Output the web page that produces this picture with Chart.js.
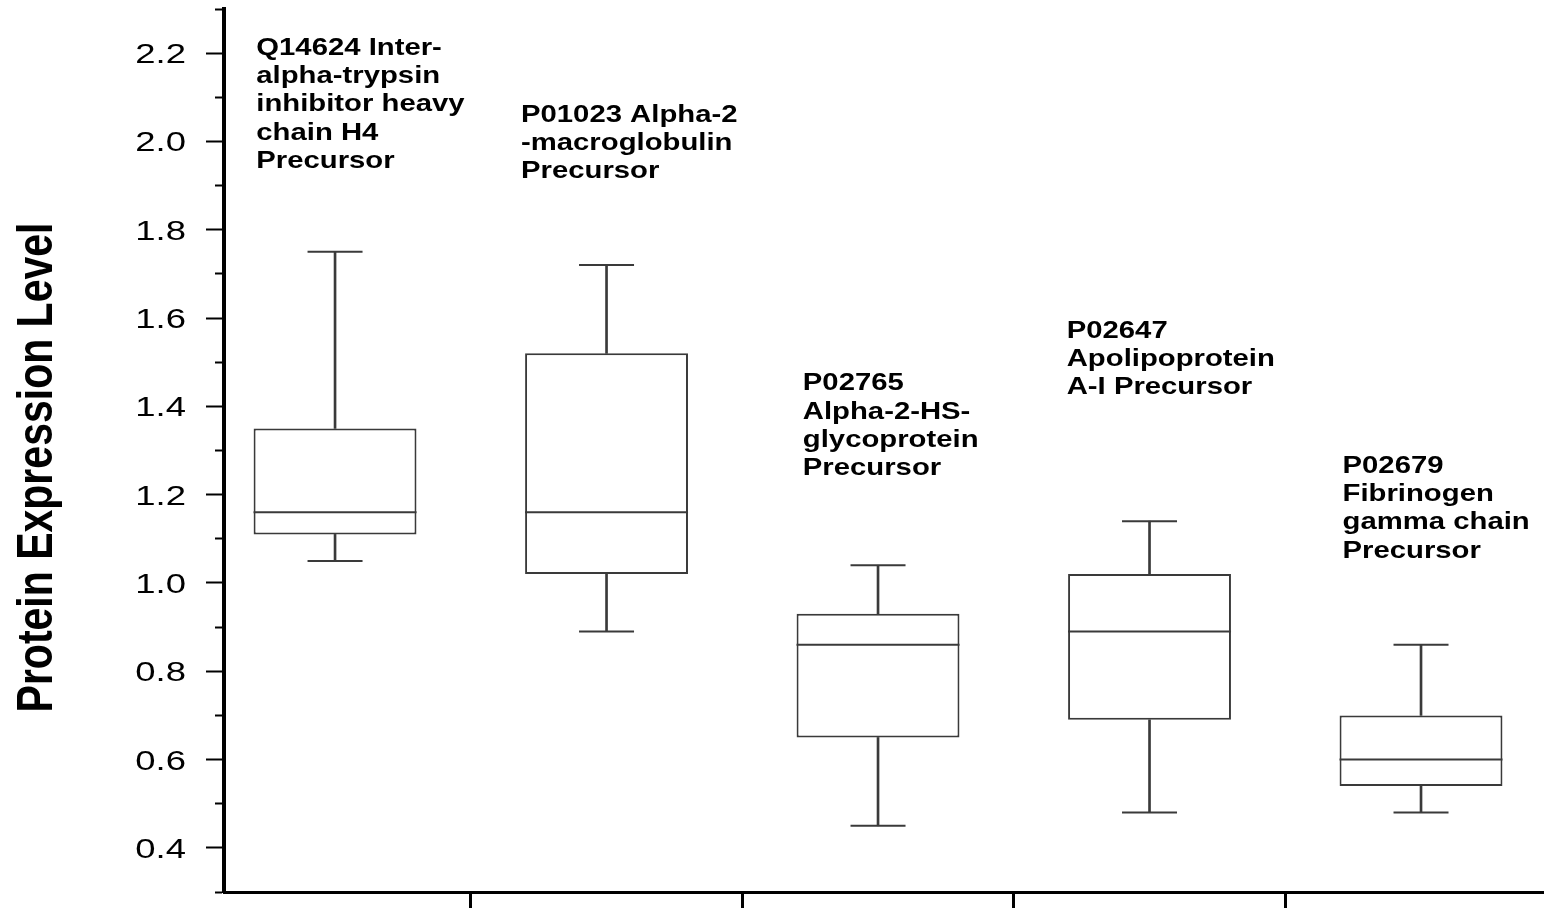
<!DOCTYPE html>
<html>
<head>
<meta charset="utf-8">
<title>Protein Expression Level</title>
<script src="https://cdn.jsdelivr.net/npm/chart.js@4.4.1/dist/chart.umd.min.js"></script>
<style>
  html, body { margin: 0; padding: 0; background: #fff; }
  canvas { display: block; }
</style>
</head>
<body>
<canvas id="boxChart" width="1544" height="908"></canvas>
<script>
// =====================
// Data
// =====================
const proteins = ['Q14624', 'P01023', 'P02765', 'P02647', 'P02679'];
const whiskerLow  = [1.05, 0.89, 0.45, 0.48, 0.48];
const quartile1   = [1.11, 1.02, 0.65, 0.69, 0.54];
const medians     = [1.16, 1.16, 0.86, 0.89, 0.60];
const quartile3   = [1.35, 1.52, 0.93, 1.02, 0.70];
const whiskerHigh = [1.75, 1.72, 1.04, 1.14, 0.86];

const proteinLabels = [
  ['Q14624 Inter-', 'alpha-trypsin', 'inhibitor heavy', 'chain H4', 'Precursor'],
  ['P01023 Alpha-2', '-macroglobulin', 'Precursor'],
  ['P02765', 'Alpha-2-HS-', 'glycoprotein', 'Precursor'],
  ['P02647', 'Apolipoprotein', 'A-I Precursor'],
  ['P02679', 'Fibrinogen', 'gamma chain', 'Precursor']
];

const yTitle = 'Protein Expression Level';
const yMin = 0.3, yMax = 2.3, yStep = 0.1;
const xTicks = [1.5, 2.5, 3.5, 4.5];

// where each label block starts (x, first baseline), in data units
const labelAnchors = [
  {x: 0.71, y: 2.196},
  {x: 1.685, y: 2.044},
  {x: 2.723, y: 1.436},
  {x: 3.695, y: 1.555},
  {x: 4.711, y: 1.249}
];

const LINE = '#3a3a3a';
const pos = proteins.map((p, i) => i + 1);

function isMinor(v){ return Math.round(v * 10) % 2 === 1; }

// =====================
// Text drawn on the canvas (stretched like the original)
// =====================
const textPlugin = {
  id: 'figureText',
  afterDraw(chart) {
    const ctx = chart.ctx;
    const xs = chart.scales.x, ys = chart.scales.y;
    ctx.save();
    ctx.fillStyle = '#000';

    // y tick labels
    ctx.font = '27px "Liberation Sans", Arial, sans-serif';
    ctx.textAlign = 'right';
    ctx.textBaseline = 'alphabetic';
    ys.ticks.forEach(t => {
      if (isMinor(t.value)) return;
      const py = ys.getPixelForValue(t.value);
      ctx.save();
      ctx.translate(ys.right - 38, py + 10);
      ctx.scale(1.35, 1);
      ctx.fillText(t.value.toFixed(1), 0, 0);
      ctx.restore();
    });

    // y axis title
    ctx.font = 'bold 41px "Liberation Sans", Arial, sans-serif';
    ctx.textAlign = 'center';
    ctx.save();
    ctx.translate(52, (ys.top + ys.bottom) / 2 + 17);
    ctx.scale(1.23, 1);
    ctx.rotate(-Math.PI / 2);
    ctx.fillText(yTitle, 0, 0);
    ctx.restore();

    // protein labels
    ctx.font = 'bold 24px "Liberation Sans", Arial, sans-serif';
    ctx.textAlign = 'left';
    proteinLabels.forEach((lines, i) => {
      const px = xs.getPixelForValue(labelAnchors[i].x);
      const py = ys.getPixelForValue(labelAnchors[i].y);
      lines.forEach((line, k) => {
        ctx.save();
        ctx.translate(px, py + k * 28.2);
        ctx.scale(1.22, 1);
        ctx.fillText(line, 0, 0);
        ctx.restore();
      });
    });
    ctx.restore();
  }
};

// =====================
// Chart
// =====================
const ctx = document.getElementById('boxChart').getContext('2d');

const boxChart = new Chart(ctx, {
  type: 'bar',
  data: {
    datasets: [
      {
        // medians (drawn on top)
        type: 'scatter', order: 0,
        data: pos.map((x, i) => ({x: x, y: medians[i]})),
        pointStyle: 'line', radius: 81.5, borderWidth: 2, borderColor: LINE
      },
      {
        // whisker caps
        type: 'scatter', order: 1,
        data: pos.map((x, i) => ({x: x, y: whiskerHigh[i]}))
              .concat(pos.map((x, i) => ({x: x, y: whiskerLow[i]}))),
        pointStyle: 'line', radius: 27.5, borderWidth: 2, borderColor: LINE
      },
      {
        // boxes
        order: 2,
        data: pos.map((x, i) => ({x: x, y: [quartile1[i], quartile3[i]]})),
        backgroundColor: '#ffffff', borderColor: LINE, borderWidth: 2,
        borderSkipped: false, barPercentage: 0.6, categoryPercentage: 1, grouped: false
      },
      {
        // upper whisker
        order: 3,
        data: pos.map((x, i) => ({x: x, y: [quartile3[i], whiskerHigh[i]]})),
        backgroundColor: LINE, borderWidth: 0,
        barThickness: 2, maxBarThickness: 2, grouped: false
      },
      {
        // lower whisker
        order: 3,
        data: pos.map((x, i) => ({x: x, y: [whiskerLow[i], quartile1[i]]})),
        backgroundColor: LINE, borderWidth: 0,
        barThickness: 2, maxBarThickness: 2, grouped: false
      }
    ]
  },
  options: {
    responsive: false,
    animation: false,
    events: [],
    layout: {autoPadding: false, padding: {top: 9, left: 0, right: 0, bottom: 0}},
    plugins: {legend: {display: false}, tooltip: {enabled: false}},
    scales: {
      x: {
        type: 'linear',
        min: 0.591, max: 5.453,
        offset: false,
        afterBuildTicks: s => { s.ticks = xTicks.map(v => ({value: v})); },
        afterFit: s => { s.height = 16; },
        ticks: {display: false},
        grid: {offset: false, drawOnChartArea: false, drawTicks: true, tickLength: 16, tickWidth: 3, tickColor: '#000'},
        border: {display: true, color: '#000', width: 3}
      },
      y: {
        min: yMin, max: yMax,
        afterFit: s => { s.width = 224; },
        ticks: {display: false, stepSize: yStep},
        grid: {
          drawOnChartArea: false, drawTicks: true, tickLength: 18, tickWidth: 2, tickColor: '#000',
          // minor ticks: only the inner half of the tick is drawn
          tickBorderDash: c => (c.tick && isMinor(c.tick.value)) ? [9, 9] : [],
          tickBorderDashOffset: c => (c.tick && isMinor(c.tick.value)) ? 9 : 0
        },
        border: {display: true, color: '#000', width: 4}
      }
    }
  },
  plugins: [textPlugin]
});
</script>
</body>
</html>
